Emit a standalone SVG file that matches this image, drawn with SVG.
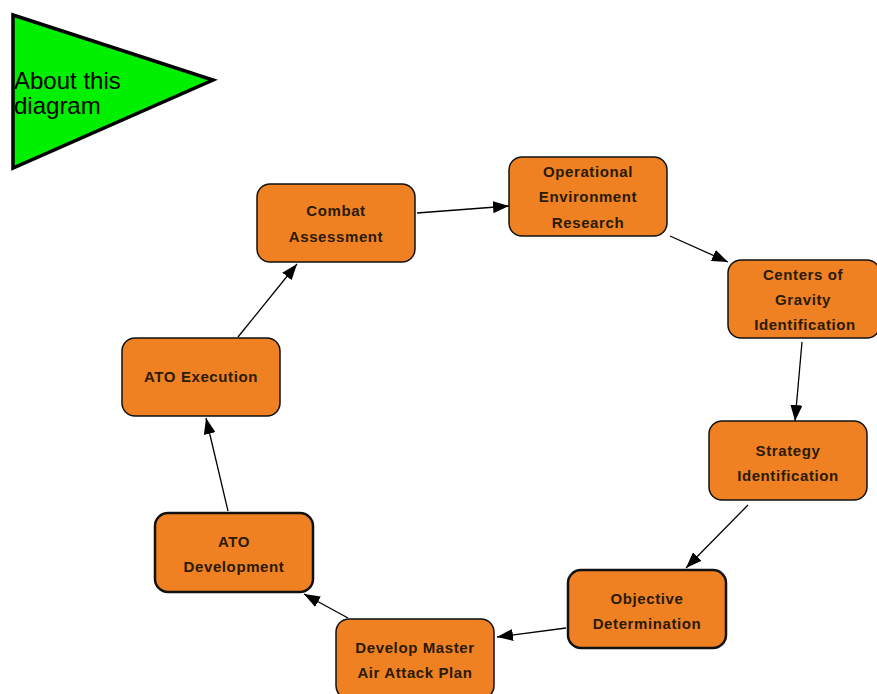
<svg xmlns="http://www.w3.org/2000/svg" width="877" height="694" viewBox="0 0 877 694">
<style>
.node rect{fill:#EF8122;stroke:#111;stroke-width:1.5}
.node.thick rect{stroke-width:2.5}
.node text{font-family:"Liberation Sans",Arial,sans-serif;font-size:15px;font-weight:bold;fill:#2a1a00;text-anchor:middle;letter-spacing:0.6px}
.conn line{stroke:#000;stroke-width:1.3;marker-end:url(#arr)}
.about{font-family:"Liberation Sans",Arial,sans-serif;font-size:24px;fill:#000}
</style>
<defs>
<marker id="arr" viewBox="0 0 16 12" refX="16" refY="6" markerWidth="16" markerHeight="12" markerUnits="userSpaceOnUse" orient="auto">
<path d="M0,0 L16,6 L0,12 Z" fill="#000"/>
</marker>
</defs>
<rect width="877" height="694" fill="#fff"/>
<g id="about">
<polygon points="13,15 213,80 13,168" fill="#00F000" stroke="#000" stroke-width="3.5" stroke-linejoin="miter"/>
<text class="about" x="14" y="89">About this</text>
<text class="about" x="14" y="114">diagram</text>
</g>
<g id="connectors" class="conn">
<line x1="417" y1="213" x2="509" y2="206"/>
<line x1="670" y1="236" x2="728" y2="262"/>
<line x1="802" y1="342" x2="795" y2="421"/>
<line x1="748" y1="505" x2="686" y2="568"/>
<line x1="566" y1="628" x2="497" y2="637"/>
<line x1="348" y1="618" x2="304" y2="594"/>
<line x1="228" y1="511" x2="206" y2="418"/>
<line x1="238" y1="337" x2="297" y2="264"/>
</g>
<g id="combat" class="node">
<rect x="257" y="184" width="158" height="78" rx="13"/>
<text x="336" y="216">Combat</text>
<text x="336" y="242">Assessment</text>
</g>
<g id="operational" class="node">
<rect x="509" y="157" width="158" height="79" rx="13"/>
<text x="588" y="177">Operational</text>
<text x="588" y="202">Environment</text>
<text x="588" y="228">Research</text>
</g>
<g id="centers" class="node">
<rect x="728" y="260" width="152" height="78" rx="13"/>
<text x="803" y="280">Centers of</text>
<text x="803" y="305">Gravity</text>
<text x="805" y="330">Identification</text>
</g>
<g id="strategy" class="node">
<rect x="709" y="421" width="158" height="79" rx="13"/>
<text x="788" y="456">Strategy</text>
<text x="788" y="481">Identification</text>
</g>
<g id="objective" class="node thick">
<rect x="568" y="570" width="158" height="78" rx="13"/>
<text x="647" y="604">Objective</text>
<text x="647" y="629">Determination</text>
</g>
<g id="develop" class="node">
<rect x="336" y="619" width="158" height="80" rx="13"/>
<text x="415" y="653">Develop Master</text>
<text x="415" y="678">Air Attack Plan</text>
</g>
<g id="atodev" class="node thick">
<rect x="155" y="513" width="158" height="79" rx="13"/>
<text x="234" y="547">ATO</text>
<text x="234" y="572">Development</text>
</g>
<g id="atoexec" class="node">
<rect x="122" y="338" width="158" height="78" rx="13"/>
<text x="201" y="382">ATO Execution</text>
</g>
</svg>
